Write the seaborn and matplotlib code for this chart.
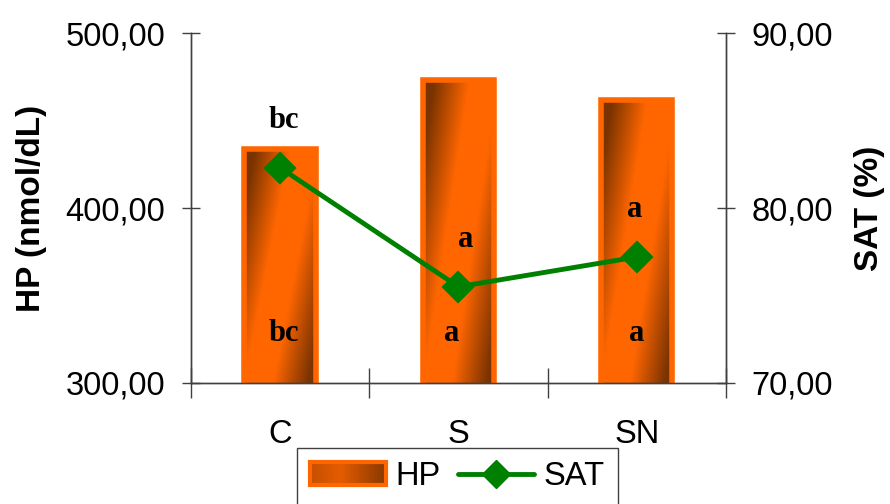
# ============================================================================
# HP (bars) and SAT (line) by group - dual axis chart
# ============================================================================

import numpy as np
import pandas as pd

import matplotlib.pyplot as plt
from matplotlib.colors import LinearSegmentedColormap
from matplotlib.lines import Line2D
from matplotlib.patches import Rectangle
from matplotlib.legend_handler import HandlerBase

import seaborn as sns


# ============================================================================
# Data
# ============================================================================

groups = ["C", "S", "SN"]

hp_values = [434.0, 473.0, 462.0]
sat_values = [82.3, 75.5, 77.2]

hp_letters = ["bc", "a", "a"]
sat_letters = ["bc", "a", "a"]

hp_ticks = [300, 400, 500]
sat_ticks = [70, 80, 90]


# ============================================================================
# Style
# ============================================================================

ORANGE = "#FF6600"
DARK = "#7A3300"
GREEN = "#008000"
AXIS = "#404040"

sns.set_theme(style="white")

plt.rcParams["font.family"] = ["Liberation Sans", "DejaVu Sans"]

bar_cmap = LinearSegmentedColormap.from_list("bar_shade", [ORANGE, DARK])

# small horizontal nudges of the significance letters
hp_letter_dx = [0.02, -0.04, 0.0]
sat_letter_dx = [0.02, 0.04, -0.01]


def comma_fmt(v):
    return f"{v:.2f}".replace(".", ",")


df = pd.DataFrame({"Group": groups, "HP": hp_values, "SAT": sat_values})


# ============================================================================
# Figure
# ============================================================================

fig = plt.figure(figsize=(8.9, 5.04), dpi=100)

ax = fig.add_axes([0.2146, 0.2401, 0.6011, 0.6944])
ax2 = ax.twinx()

sns.barplot(
    data=df,
    x="Group",
    y="HP",
    ax=ax,
    width=0.4,
    color=ORANGE,
    saturation=1,
    errorbar=None
)

ax.set_ylim(hp_ticks[0], hp_ticks[-1])
ax.set_xlim(-0.5, len(groups) - 0.5)

# diagonal gradient inside each bar, clipped to the bar shape
ny, nx = 150, 60
xx, ss = np.meshgrid(np.linspace(0, 1, nx), np.linspace(0, 1, ny))
centre = 0.85 - 0.65 * ss
shade = np.clip((np.abs(xx - centre) - 0.2) / 0.5, 0, 1)

for bar in ax.patches:
    x0 = bar.get_x()
    x1 = x0 + bar.get_width()
    top = bar.get_height()
    im = ax.imshow(
        shade,
        cmap=bar_cmap,
        vmin=0,
        vmax=1,
        extent=(x0, x1, hp_ticks[0], top),
        origin="upper",
        aspect="auto",
        interpolation="bilinear",
        zorder=2
    )
    im.set_clip_path(bar)
    bar.set_facecolor("none")
    bar.set_edgecolor(ORANGE)
    bar.set_linewidth(4)
    bar.set_zorder(3)

ax.set_ylim(hp_ticks[0], hp_ticks[-1])
ax.set_xlim(-0.5, len(groups) - 0.5)

sns.pointplot(
    data=df,
    x="Group",
    y="SAT",
    ax=ax2,
    color=GREEN,
    markers="D",
    markersize=14,
    linewidth=3.5,
    errorbar=None
)

ax2.set_ylim(sat_ticks[0], sat_ticks[-1])
ax2.set_xlim(-0.5, len(groups) - 0.5)


# ============================================================================
# Letters
# ============================================================================

for i, lab in enumerate(hp_letters):
    ax.text(
        i + hp_letter_dx[i], 328, lab,
        ha="center", va="center",
        fontfamily="Liberation Serif", fontweight="bold", fontsize=22,
        color="black", zorder=6
    )

for i, lab in enumerate(sat_letters):
    ax2.text(
        i + sat_letter_dx[i], sat_values[i] + 2.7, lab,
        ha="center", va="center",
        fontfamily="Liberation Serif", fontweight="bold", fontsize=22,
        color="black", zorder=6
    )


# ============================================================================
# Axes
# ============================================================================

ax.set_yticks(hp_ticks)
ax.set_yticklabels([comma_fmt(v) for v in hp_ticks])
ax2.set_yticks(sat_ticks)
ax2.set_yticklabels([comma_fmt(v) for v in sat_ticks])

ax.set_xticks(range(len(groups)))
ax.set_xticklabels(groups)
ax.set_xticks([i - 0.5 for i in range(len(groups) + 1)], minor=True)

ax.set_xlabel("")
ax.set_ylabel("HP (nmol/dL)", fontsize=24, fontweight="bold", labelpad=13, color="black")
ax2.set_xlabel("")
ax2.set_ylabel("SAT (%)", fontsize=24, fontweight="bold", labelpad=15, color="black")

for a in (ax, ax2):
    a.spines["top"].set_visible(False)
    for side in ("left", "right", "bottom"):
        a.spines[side].set_color(AXIS)
        a.spines[side].set_linewidth(1)

ax.tick_params(axis="y", left=True, direction="inout", length=13, width=1,
               color=AXIS, labelsize=23.5, labelcolor="black", pad=12)
ax2.tick_params(axis="y", right=True, direction="inout", length=13, width=1,
                color=AXIS, labelsize=23.5, labelcolor="black", pad=12)
ax.tick_params(axis="x", which="major", bottom=True, length=0,
               labelsize=23.5, labelcolor="black", pad=26)
ax.tick_params(axis="x", which="minor", bottom=True, direction="inout",
               length=21, width=1, color=AXIS)
ax2.tick_params(axis="x", bottom=False, labelbottom=False)


# ============================================================================
# Legend
# ============================================================================

class GradientHandler(HandlerBase):

    def create_artists(self, legend, orig_handle, xdescent, ydescent,
                       width, height, fontsize, trans):
        n = 30
        x0, y0 = -xdescent, -ydescent
        arts = []
        for i in range(n):
            t = (i + 0.5) / n
            val = np.interp(t, [0, 0.4, 1], [0.45, 0.2, 0.9])
            arts.append(Rectangle((x0 + i * width / n, y0), width / n + 0.3, height,
                                  facecolor=bar_cmap(val), edgecolor="none",
                                  transform=trans))
        arts.append(Rectangle((x0, y0), width, height, facecolor="none",
                              edgecolor=ORANGE, linewidth=3, transform=trans))
        return arts


hp_handle = Rectangle((0, 0), 1, 1)
sat_handle = Line2D([], [], color=GREEN, linewidth=3.5, marker="D", markersize=14)

leg = fig.legend(
    [hp_handle, sat_handle],
    ["HP", "SAT"],
    handler_map={Rectangle: GradientHandler()},
    loc="upper center",
    bbox_to_anchor=(0.514, 0.111),
    ncol=2,
    frameon=True,
    fancybox=False,
    framealpha=1,
    edgecolor=AXIS,
    fontsize=23.5,
    handlelength=2.3,
    handletextpad=0.3,
    columnspacing=0.55,
    borderpad=0.4,
    borderaxespad=0
)
leg.get_frame().set_linewidth(1)
for txt in leg.get_texts():
    txt.set_color("black")

fig.savefig("out.png", dpi=100)

print("Chart saved to out.png")
